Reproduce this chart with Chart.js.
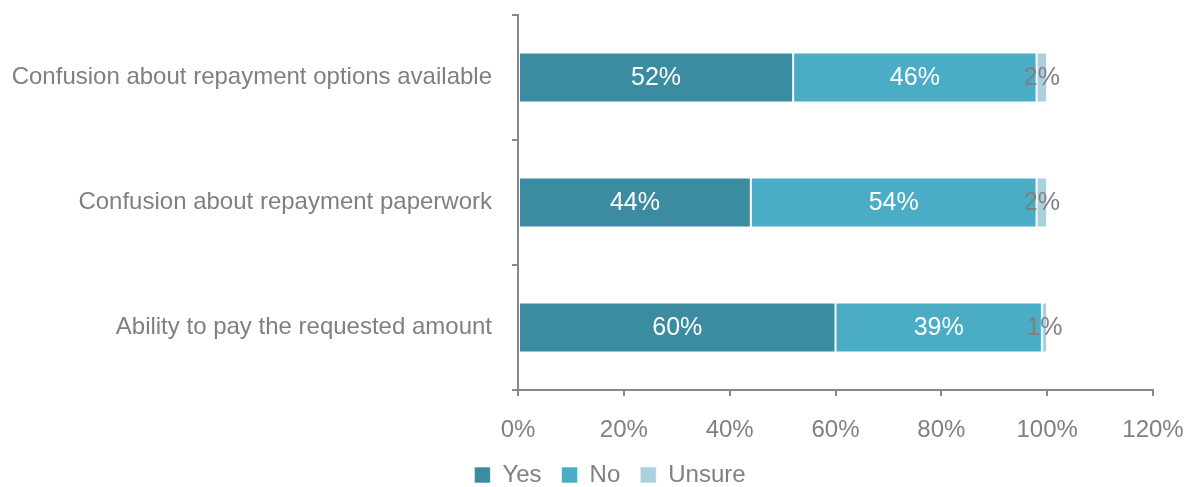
<!DOCTYPE html>
<html>
<head>
<meta charset="utf-8">
<script src="https://cdn.jsdelivr.net/npm/chart.js@4.4.1/dist/chart.umd.min.js"></script>
<style>
  html, body { margin: 0; padding: 0; background: #fff; }
  #wrap { width: 1186px; height: 487px; }
</style>
</head>
<body>
<div id="wrap"><canvas id="chart" width="1186" height="487"></canvas></div>
<script>
// chart data
var categories = ['Confusion about repayment options available', 'Confusion about repayment paperwork', 'Ability to pay the requested amount'];
var yesValues = [52, 44, 60];
var noValues = [46, 54, 39];
var unsureValues = [2, 2, 1];
var xTicks = [0, 20, 40, 60, 80, 100, 120];

var FONT = "'Liberation Sans Narrow', 'Arial Narrow', 'Liberation Sans', sans-serif";
var GREY = '#808080';

// draws the percentage inside each bar segment
var barLabels = {
  id: 'barLabels',
  afterDatasetsDraw: function(chart) {
    var ctx = chart.ctx;
    ctx.save();
    ctx.font = '25px ' + FONT;
    ctx.textAlign = 'center';
    ctx.textBaseline = 'middle';
    chart.data.datasets.forEach(function(ds, i) {
      var meta = chart.getDatasetMeta(i);
      meta.data.forEach(function(bar, j) {
        var p = bar.getProps(['x', 'base', 'y'], true);
        ctx.fillStyle = ds.labelColor;
        ctx.fillText(ds.data[j] + '%', (p.x + p.base) / 2, p.y + 1);
      });
    });
    ctx.restore();
  }
};

// legend sits a bit right and lower than chart.js puts it;
// x axis box is grown downward so its labels are not clipped
var layoutNudge = {
  id: 'layoutNudge',
  afterLayout: function(chart) {
    var l = chart.legend;
    l.left += 17; l.right += 17;
    l.top += 10; l.bottom += 10;
    chart.scales.x.bottom += 20;
  }
};

new Chart(document.getElementById('chart').getContext('2d'), {
  type: 'bar',
  data: {
    labels: categories,
    datasets: [
      { label: 'Yes', data: yesValues, backgroundColor: '#3B8BA1', labelColor: '#ffffff' },
      { label: 'No', data: noValues, backgroundColor: '#4BACC6', labelColor: '#ffffff' },
      { label: 'Unsure', data: unsureValues, backgroundColor: '#A9D0DD', labelColor: GREY }
    ].map(function(d) {
      d.borderColor = 'rgba(255,255,255,0.6)';
      d.borderWidth = 1;
      d.borderSkipped = false;
      d.barPercentage = 0.4;
      d.categoryPercentage = 1;
      return d;
    })
  },
  options: {
    indexAxis: 'y',
    responsive: false,
    animation: false,
    layout: { padding: { left: 0, right: 0, top: 15, bottom: 0 } },
    plugins: {
      legend: {
        position: 'bottom',
        labels: {
          boxWidth: 16,
          boxHeight: 16,
          padding: 20,
          color: GREY,
          font: { family: FONT, size: 24, lineHeight: 1 }
        }
      },
      tooltip: { enabled: false }
    },
    scales: {
      x: {
        stacked: true,
        min: 0,
        max: 120,
        afterBuildTicks: function(scale) {
          scale.ticks = xTicks.map(function(v) { return { value: v }; });
        },
        afterFit: function(scale) {
          scale.height = 43;
          scale.paddingLeft = 0;
          scale.paddingRight = 33;
        },
        grid: { drawOnChartArea: false, color: '#888', tickLength: 6, lineWidth: 2 },
        border: { color: '#888', width: 2 },
        ticks: {
          padding: 20,
          color: GREY,
          font: { family: FONT, size: 24 },
          callback: function(v) { return v + '%'; }
        }
      },
      y: {
        stacked: true,
        afterFit: function(scale) {
          scale.width = 518;
          scale.paddingTop = 0;
          scale.paddingBottom = 0;
        },
        grid: { drawOnChartArea: false, color: '#888', tickLength: 6, lineWidth: 2, offset: true },
        border: { color: '#888', width: 2 },
        ticks: {
          padding: 20,
          color: GREY,
          font: { family: FONT, size: 24 }
        }
      }
    }
  },
  plugins: [barLabels, layoutNudge]
});
</script>
</body>
</html>
